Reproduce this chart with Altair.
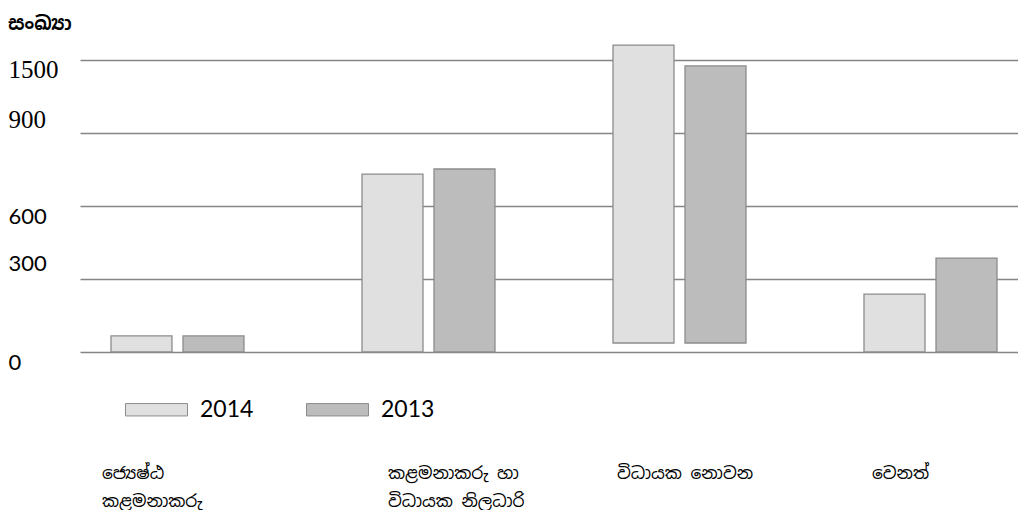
import altair as alt
import pandas as pd

# ---- data ----
categories = ["ජ්‍යෙෂ්ඨ|කළමනාකරු", "කළමනාකරු හා|විධායක නිලධාරි", "විධායක නොවන", "වෙනත්"]
years = ["2014", "2013"]
values_2014 = [66, 731, 1623, 238]
values_2013 = [66, 752, 1451, 386]
bar_base = [0, 0, 37, 0]          # bottoms of the bars (third group floats slightly)
y_ticks = [0, 300, 600, 900, 1500]

rows = []
for i, c in enumerate(categories):
    rows.append({"cat": c, "year": "2014", "value": values_2014[i], "base": bar_base[i]})
    rows.append({"cat": c, "year": "2013", "value": values_2013[i], "base": bar_base[i]})
df = pd.DataFrame(rows)

# label styling (irregular placement as in the picture)
x_label_shift = [-70.5, -35.5, -57.5, -53.5]
y_label_shift = {1500: 9, 900: -14, 600: 10, 300: -16, 0: 10}

x_offset_cond = {
    "condition": [{"test": f"datum.value == '{c}'", "value": s}
                  for c, s in zip(categories, x_label_shift)],
    "value": 0,
}
y_offset_cond = {
    "condition": [{"test": f"datum.value == {v}", "value": s}
                  for v, s in y_label_shift.items()],
    "value": 0,
}
y_font_cond = {"condition": {"test": "datum.value < 900", "value": "Lato"}, "value": "Liberation Serif"}
y_size_cond = {"condition": {"test": "datum.value < 900", "value": 22}, "value": 25}

SIN_FONT = "Noto Sans Sinhala, Iskoola Pota, sans-serif"

chart = (
    alt.Chart(df)
    .mark_bar(stroke="#8c8c8c", strokeWidth=1.3)
    .encode(
        x=alt.X(
            "cat:N",
            sort=categories,
            scale=alt.Scale(paddingInner=0.263, paddingOuter=0),
            axis=alt.Axis(
                title=None,
                domain=False,
                ticks=False,
                labelAngle=0,
                labelAlign="left",
                labelBaseline="top",
                labelPadding=113,
                labelFont=SIN_FONT,
                labelFontSize=17,
                labelColor="#000000",
                labelLineHeight=28,
                labelExpr="split(datum.label, '|')",
                labelOffset=x_offset_cond,
                labelOverlap=False,
                labelBound=False,
                labelLimit=300,
            ),
        ),
        xOffset=alt.XOffset(
            "year:N",
            sort=years,
            scale=alt.Scale(paddingInner=0.153, paddingOuter=0.361, align=0.596),
        ),
        y=alt.Y(
            "value:Q",
            scale=alt.Scale(domain=[0, 900, 1500], range=[{"expr": "height"}, {"expr": "height*0.25"}, 0], nice=False),
            axis=alt.Axis(
                title=None,
                values=y_ticks,
                format="d",
                domain=False,
                ticks=False,
                grid=True,
                gridColor="#858585",
                gridWidth=1.3,
                labelAlign="left",
                labelBaseline="middle",
                labelPadding=72,
                labelColor="#000000",
                labelFont=y_font_cond,
                labelFontSize=y_size_cond,
                labelOffset=y_offset_cond,
                labelFlush=False,
                labelOverlap=False,
                labelBound=False,
            ),
        ),
        y2="base:Q",
        color=alt.Color(
            "year:N",
            sort=years,
            scale=alt.Scale(domain=years, range=["#e0e0e0", "#bcbcbc"]),
            legend=alt.Legend(
                title=None,
                orient="none",
                direction="horizontal",
                legendX=45,
                legendY=318,
                symbolType="M-1,-0.2H1V0.2H-1Z",
                symbolSize=3844,
                symbolStrokeColor="#8c8c8c",
                symbolStrokeWidth=1,
                labelFont="Lato",
                labelFontSize=23,
                labelColor="#000000",
                labelOffset=12,
                columnPadding=50,
            ),
        ),
    )
    .properties(
        width=938,
        height=292,
        autosize=alt.AutoSizeParams(type="none"),
        padding={"left": 72, "top": 52, "right": 0, "bottom": 158},
        title=alt.TitleParams(
            text="සංඛ්‍යා",
            anchor="start",
            frame="bounds",
            font=SIN_FONT,
            fontSize=19,
            fontWeight="bold",
            color="#000000",
            offset=10,
        ),
        background="#ffffff",
    )
    .configure_view(stroke=None)
)

chart.save("out.html", embed_options={"renderer": "svg", "actions": False})
